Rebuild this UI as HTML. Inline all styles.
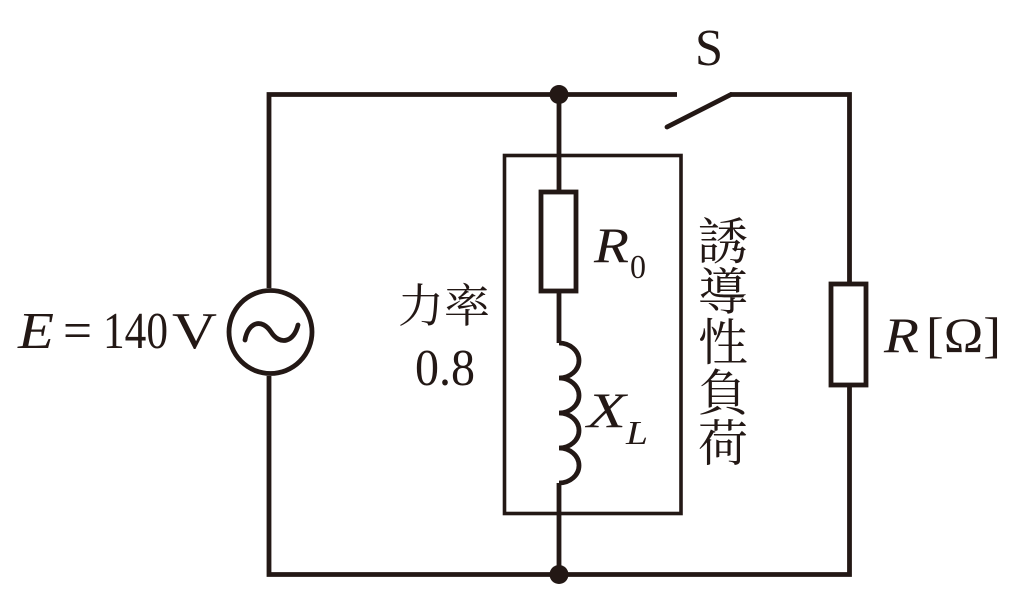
<!DOCTYPE html>
<html>
<head>
<meta charset="utf-8">
<style>
html,body{margin:0;padding:0;background:#fff;}
svg{display:block;}
</style>
</head>
<body>
<svg width="1024" height="597" viewBox="0 0 1024 597" xmlns="http://www.w3.org/2000/svg">
<g stroke="#231815" fill="none" stroke-width="4.8">
  <!-- outer loop -->
  <polyline points="677,94.5 269,94.5 269,288" stroke-linejoin="miter"/>
  <polyline points="269,376 269,574.5 849.5,574.5 849.5,385"/>
  <polyline points="849.5,284 849.5,94.5 730,94.5" stroke-linejoin="miter"/>
  <!-- switch blade -->
  <line x1="667" y1="127" x2="731" y2="94.5" stroke-linecap="round"/>
  <!-- source -->
  <circle cx="270.5" cy="332" r="41.5"/>
  <path d="M245,340 C248,322 262,318 271,332 C280,346 294,342 298,325" stroke-linecap="round"/>
  <!-- middle branch -->
  <line x1="559" y1="94.5" x2="559" y2="192"/>
  <rect x="541" y="192" width="35" height="99"/>
  <line x1="559" y1="291" x2="559" y2="343"/>
  <path d="M559,343 A20,17.5 0 0 1 559,378 A20,17.5 0 0 1 559,413 A20,17.5 0 0 1 559,448 A20,17.5 0 0 1 559,483"/>
  <line x1="559" y1="483" x2="559" y2="574.5"/>
  <!-- right resistor -->
  <rect x="831" y="284" width="35" height="101"/>
  <!-- load box -->
  <rect x="504.5" y="155.5" width="176.5" height="358" stroke-width="3.6"/>
</g>
<g fill="#231815">
  <circle cx="559" cy="94.5" r="9.5"/>
  <circle cx="559" cy="574.5" r="9.5"/>
</g>
<g fill="#231815" font-family="'Liberation Serif', serif">
  <text x="18" y="348" font-size="52" font-style="italic" textLength="36" lengthAdjust="spacingAndGlyphs">E</text>
  <text x="63" y="348" font-size="52" textLength="29" lengthAdjust="spacingAndGlyphs">=</text>
  <text x="103" y="348" font-size="52" textLength="65" lengthAdjust="spacingAndGlyphs">140</text>
  <text x="172" y="348" font-size="52" textLength="45" lengthAdjust="spacingAndGlyphs">V</text>
  <text x="695" y="65" font-size="52" textLength="28" lengthAdjust="spacingAndGlyphs">S</text>
  <text x="594" y="262" font-size="50" font-style="italic" textLength="35" lengthAdjust="spacingAndGlyphs">R</text>
  <text x="630" y="278" font-size="34" textLength="16" lengthAdjust="spacingAndGlyphs">0</text>
  <text x="587" y="427" font-size="50" font-style="italic" textLength="39" lengthAdjust="spacingAndGlyphs">X</text>
  <text x="626" y="444" font-size="34" font-style="italic" textLength="22" lengthAdjust="spacingAndGlyphs">L</text>
  <text x="884" y="352" font-size="50" font-style="italic" textLength="35" lengthAdjust="spacingAndGlyphs">R</text>
  <text x="926" y="352" font-size="50" textLength="75" lengthAdjust="spacingAndGlyphs">[Ω]</text>
  <text x="415" y="385" font-size="52" textLength="60" lengthAdjust="spacingAndGlyphs">0.8</text>
</g>
<g fill="#231815" font-family="'Liberation Serif', 'Noto Serif CJK SC', 'Noto Sans CJK JP', serif">
  <text x="398" y="322" font-size="46" textLength="92" lengthAdjust="spacingAndGlyphs">力率</text>
  <g font-size="50" text-anchor="middle">
    <text x="723" y="259">誘</text>
    <text x="723" y="309.5">導</text>
    <text x="723" y="360">性</text>
    <text x="723" y="410.5">負</text>
    <text x="723" y="461">荷</text>
  </g>
</g>
</svg>
</body>
</html>
